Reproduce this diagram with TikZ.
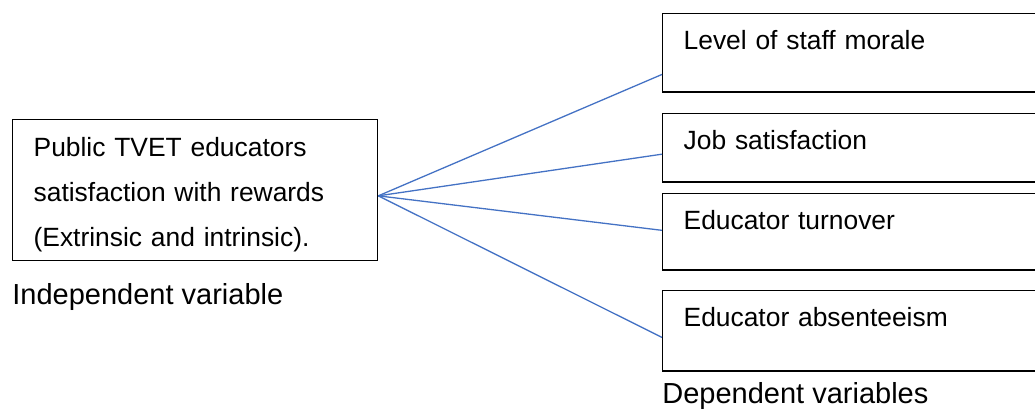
\documentclass[tikz,border=0pt]{standalone}
\usepackage{fontspec}
\setmainfont{Liberation Sans}
\usepackage{tikz}
\usetikzlibrary{calc}

\definecolor{linkblue}{HTML}{4472C4}

\begin{document}
\begin{tikzpicture}[x=0.5pt, y=-0.5pt,
    indbox/.style={draw, line width=0.65pt, rectangle, anchor=north west, align=left,
        inner xsep=10.5pt, inner ysep=0pt, text width=161.5pt, text height=18.5pt, text depth=52pt,
        font=\fontsize{13.2}{22.5}\selectfont},
    depbox/.style={draw, line width=0.65pt, rectangle, anchor=north west, align=left,
        inner xsep=10.5pt, inner ysep=0pt, text width=171pt, text height=17.75pt,
        font=\fontsize{13.2}{16}\selectfont},
    caption/.style={anchor=base west, inner sep=0pt, font=\fontsize{14.5}{17}\selectfont},
    link/.style={draw=linkblue, line width=0.65pt}]
\useasboundingbox (0,0) rectangle (1035,410);

% Independent variable
\node[indbox] (ind) at (12,119) {Public TVET educators\\ satisfaction with rewards\\ (Extrinsic and intrinsic).};
\node[caption] (indcap) at (12,305) {Independent variable};

% Dependent variables
\node[depbox, text depth=21.5pt] (dep1) at (662,13) {Level of staff morale};
\node[depbox, text depth=16.5pt] (dep2) at (662,113) {Job satisfaction};
\node[depbox, text depth=20.5pt] (dep3) at (662,193) {Educator turnover};
\node[depbox, text depth=22.5pt] (dep4) at (662,290) {Educator absenteeism};
\node[caption] (depcap) at (662,404) {Dependent variables};

% Links
\coordinate (hub) at ($(ind.north east)!0.54!(ind.south east)$);
\draw[link] (hub) -- ($(dep1.north west)!0.77!(dep1.south west)$);
\draw[link] (hub) -- ($(dep2.north west)!0.59!(dep2.south west)$);
\draw[link] (hub) -- ($(dep3.north west)!0.48!(dep3.south west)$);
\draw[link] (hub) -- ($(dep4.north west)!0.58!(dep4.south west)$);
\end{tikzpicture}
\end{document}
